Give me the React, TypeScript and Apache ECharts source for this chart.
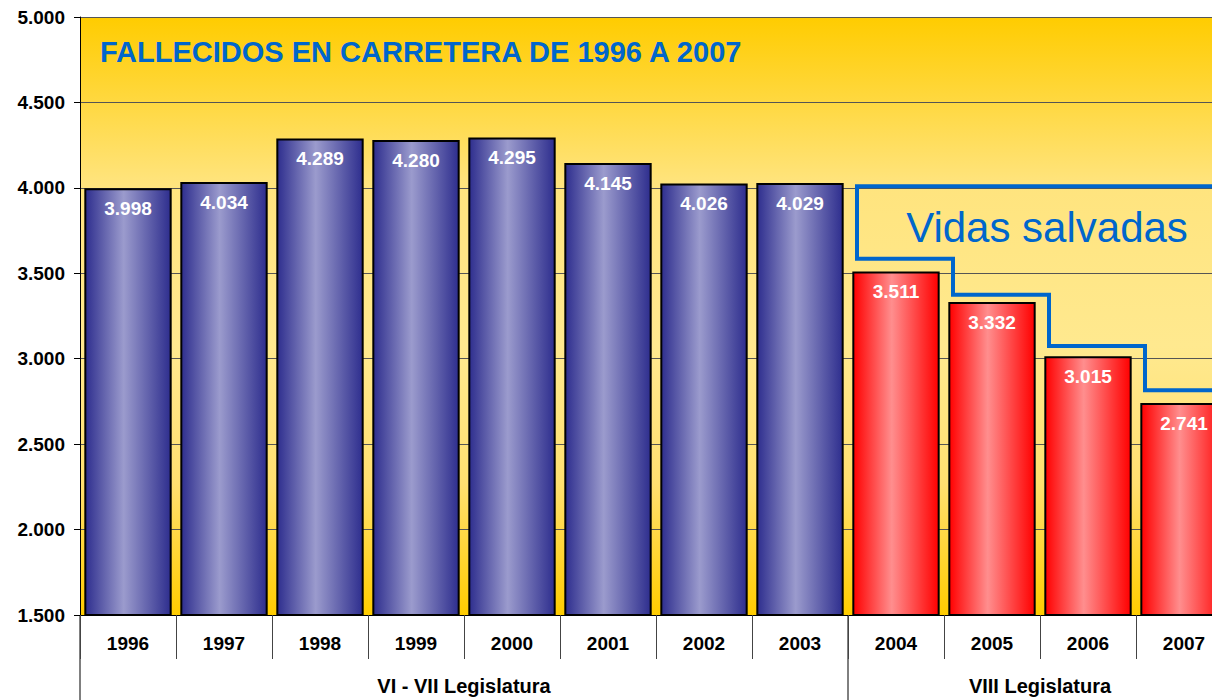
import React, { useEffect, useRef } from "react";
import * as echarts from "echarts";

const years = ["1996", "1997", "1998", "1999", "2000", "2001", "2002", "2003", "2004", "2005", "2006", "2007"];
const deaths = [3998, 4034, 4289, 4280, 4295, 4145, 4026, 4029, 3511, 3332, 3015, 2741];
// legislature groups: label, first index, last index
const legislaturas = ["VI - VII Legislatura", "VIII Legislatura"];
const legislaturaStart = [0, 8];
const legislaturaEnd = [7, 11];
// "Vidas salvadas" staircase levels (approximate readings)
const savedTopLevel = 4010;
const savedStepLevels = [3585, 3375, 3075, 2815];
const savedStepStart = 8;
const yTicks = { min: 1500, max: 5000, interval: 500 };

const titleText = "FALLECIDOS EN CARRETERA DE 1996 A 2007";
const savedText = "Vidas salvadas";

const FONT = "'Liberation Sans', Arial, sans-serif";
const fmt = (v: number) => (v / 1000).toFixed(3);

const blueGrad = new echarts.graphic.LinearGradient(0, 0, 1, 0, [
  { offset: 0, color: "#2E2E8E" },
  { offset: 0.45, color: "#9B9BCD" },
  { offset: 1, color: "#2E2E8E" },
]);
const redGrad = new echarts.graphic.LinearGradient(0, 0, 1, 0, [
  { offset: 0, color: "#FF0000" },
  { offset: 0.45, color: "#FF8E8E" },
  { offset: 1, color: "#FF0000" },
]);

export default function App() {
  const ref = useRef<HTMLDivElement>(null);
  useEffect(() => {
    const el = ref.current!;
    const chart = echarts.init(el, undefined, { renderer: "svg" });
    const W = 1240;
    chart.setOption({
      animation: false,
      grid: { left: 80, top: 17, right: 8, bottom: 85, show: true, borderWidth: 0,
        backgroundColor: new echarts.graphic.LinearGradient(0, 0, 0, 1, [
          { offset: 0, color: "#FFCC00" },
          { offset: 0.28, color: "#FFE47E" },
          { offset: 0.55, color: "#FFE98F" },
          { offset: 0.78, color: "#FFE070" },
          { offset: 1, color: "#FFCC00" },
        ]) },
      xAxis: {
        type: "category",
        data: years,
        axisLine: { show: true, lineStyle: { color: "#000", width: 1 } },
        axisTick: { show: true, interval: 0, length: 44, lineStyle: { color: "#444" } },
        axisLabel: { interval: 0, margin: 19, fontFamily: FONT, fontSize: 19, fontWeight: "bold", color: "#000" },
      },
      yAxis: {
        type: "value",
        min: yTicks.min,
        max: yTicks.max,
        interval: yTicks.interval,
        axisLine: { show: true, lineStyle: { color: "#000" } },
        axisTick: { show: true, length: 6, lineStyle: { color: "#000" } },
        axisLabel: { margin: 15, fontFamily: FONT, fontSize: 19, fontWeight: "bold", color: "#000", formatter: (v: number) => fmt(v) },
        splitLine: { show: true, lineStyle: { color: "#555", width: 1 } },
      },
      series: [
        {
          type: "bar",
          barCategoryGap: "9%",
          data: deaths.map((v, i) => ({
            value: v,
            itemStyle: { color: i >= savedStepStart ? redGrad : blueGrad, borderColor: "#000", borderWidth: 2 },
          })),
          label: {
            show: true,
            position: "insideTop",
            distance: 11,
            fontFamily: FONT,
            fontSize: 19,
            fontWeight: "bold",
            color: "#fff",
            formatter: (p: any) => fmt(p.value),
          },
        },
      ],
    });

    const px = (i: number, v: number) => chart.convertToPixel({ gridIndex: 0 }, [i, v]) as number[];
    const band = px(1, yTicks.min)[0] - px(0, yTicks.min)[0];
    const bx = (i: number) => px(i, yTicks.min)[0] - band / 2;
    const yb = px(0, yTicks.min)[1];
    const y = (v: number) => px(0, v)[1];
    const off = 9;

    const pts: number[][] = [[W, y(savedTopLevel)], [bx(savedStepStart) + off, y(savedTopLevel)]];
    savedStepLevels.forEach((lv, k) => {
      const xs = bx(savedStepStart + k) + off;
      const xe = k < savedStepLevels.length - 1 ? bx(savedStepStart + k + 1) + off : W;
      pts.push([xs, y(lv)]);
      pts.push([xe, y(lv)]);
    });

    const graphics: any[] = [
      {
        type: "text",
        left: 100,
        top: 37,
        style: { text: titleText, font: `bold 29px ${FONT}`, fill: "#0066CC" },
      },
      {
        type: "polyline",
        shape: { points: pts },
        style: { stroke: "#0066CC", lineWidth: 4, fill: null, lineJoin: "miter" },
        z: 10,
      },
      {
        type: "text",
        x: bx(savedStepStart + 2) + 7,
        y: (y(savedTopLevel) + y(savedStepLevels[0])) / 2 + 5,
        style: { text: savedText, font: `42px ${FONT}`, fill: "#0066CC", align: "center", verticalAlign: "middle" },
        z: 10,
      },
    ];
    legislaturas.forEach((name, k) => {
      const x0 = bx(legislaturaStart[k]);
      const x1 = bx(legislaturaEnd[k] + 1);
      graphics.push({
        type: "line",
        shape: { x1: x0, y1: yb, x2: x0, y2: 700 },
        style: { stroke: "#000", lineWidth: 1 },
      });
      graphics.push({
        type: "text",
        x: (x0 + x1) / 2,
        y: 686,
        style: { text: name, font: `bold 20px ${FONT}`, fill: "#000", align: "center", verticalAlign: "middle" },
      });
    });
    chart.setOption({ graphic: graphics });

    return () => chart.dispose();
  }, []);

  return (
    <div style={{ position: "fixed", left: 0, top: 0, width: 1212, height: 700, overflow: "hidden", background: "#fff" }}>
      <div ref={ref} style={{ width: 1240, height: 700 }} />
    </div>
  );
}
